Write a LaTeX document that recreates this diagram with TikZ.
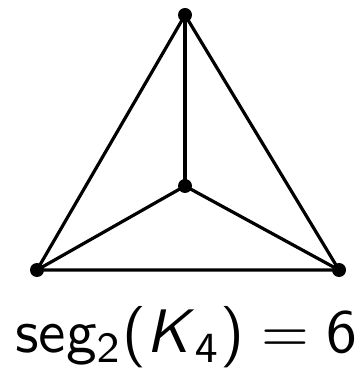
\documentclass[tikz,border=0pt]{standalone}
\begin{document}
\begin{tikzpicture}[x=1pt,y=1pt,
  edge/.style={line width=3.2pt},
  vtx/.style={circle,fill=black,inner sep=0pt,minimum size=14pt}]
\useasboundingbox (0,0) rectangle (362,372);
\node[vtx] (t) at (185,357) {};
\node[vtx] (c) at (185,186) {};
\node[vtx] (l) at (37,102) {};
\node[vtx] (r) at (339,102) {};
\draw[edge] (t.center) -- (l.center) -- (r.center) -- (t.center);
\draw[edge] (c.center) -- (t.center);
\draw[edge] (c.center) -- (l.center);
\draw[edge] (c.center) -- (r.center);
\node[inner sep=0pt,anchor=base west] (lab) at (15,19) {\resizebox{342pt}{!}{\sffamily seg$_{\mathsf 2}$(\textit{K}$_{\mathsf 4}$)${}={}$6}};
\end{tikzpicture}
\end{document}
